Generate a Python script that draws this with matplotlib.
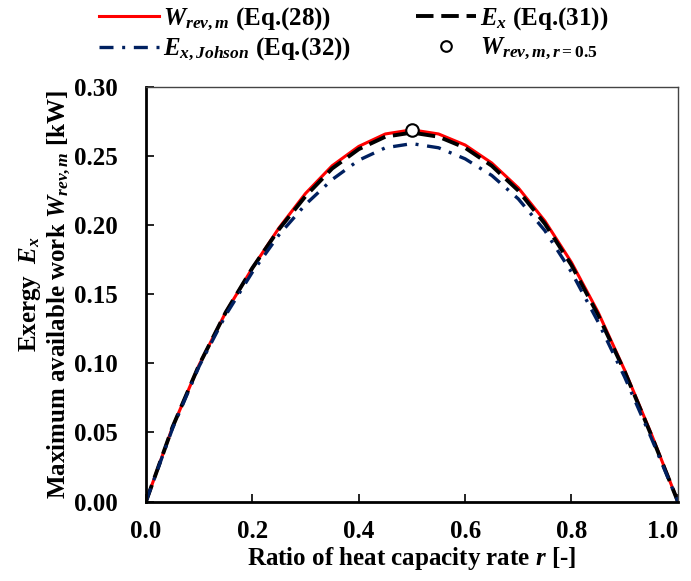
import numpy as np
import matplotlib
matplotlib.use("Agg")
from matplotlib import pyplot as plt

plt.rcParams['font.family'] = 'Liberation Serif'
plt.rcParams['font.weight'] = 'bold'
plt.rcParams['mathtext.fontset'] = 'custom'
plt.rcParams['mathtext.rm'] = 'Liberation Serif:bold'
plt.rcParams['mathtext.it'] = 'Liberation Serif:italic:bold'
plt.rcParams['mathtext.bf'] = 'Liberation Serif:bold'

# ratio of heat capacity rate r
r = [0.0, 0.05, 0.1, 0.15, 0.2, 0.25, 0.3, 0.35, 0.4, 0.45, 0.5,
     0.55, 0.6, 0.65, 0.7, 0.75, 0.8, 0.85, 0.9, 0.95, 1.0]
# W_rev,m (Eq.(28))
w_rev = [0.0, 0.054, 0.099, 0.137, 0.169, 0.198, 0.223, 0.243, 0.257, 0.266, 0.269,
         0.266, 0.258, 0.245, 0.227, 0.203, 0.173, 0.137, 0.095, 0.049, 0.0]
# E_x (Eq.(31))
ex = [0.0, 0.054, 0.099, 0.137, 0.169, 0.197, 0.221, 0.241, 0.255, 0.264, 0.267,
      0.264, 0.256, 0.243, 0.225, 0.201, 0.171, 0.135, 0.094, 0.048, 0.0]
# E_x,Johson (Eq.(32))
ex_johnson = [0.0, 0.053, 0.098, 0.135, 0.166, 0.193, 0.215, 0.233, 0.247, 0.256, 0.259,
              0.256, 0.248, 0.236, 0.219, 0.196, 0.166, 0.130, 0.090, 0.046, 0.0]
# W_rev,m at r = 0.5
r_half = [0.5]
w_half = [0.269]

fig = plt.figure(figsize=(6.91, 5.81), dpi=100)
ax = fig.add_axes([0.2113, 0.1368, 0.7697, 0.7135])

l1, = ax.plot(r, w_rev, color='#ff0000', lw=2.2)
l2, = ax.plot(r, ex, color='black', lw=2.8, dashes=(4.5, 2.0))
l3, = ax.plot(r, ex_johnson, color='#002060', lw=2.4, dashes=(4.2, 2.6, 0.9, 2.6))
l4, = ax.plot(r_half, w_half, 'o', ms=9, mfc='white', mec='black', mew=1.5)

ax.set_xlim(0, 1.0)
ax.set_ylim(0, 0.30)
ax.set_xticks(np.arange(0, 1.01, 0.2))
ax.set_yticks(np.arange(0, 0.301, 0.05))
ax.set_xticklabels(['%.1f' % v for v in np.arange(0, 1.01, 0.2)])
ax.set_yticklabels(['%.2f' % v for v in np.arange(0, 0.301, 0.05)])
ax.tick_params(direction='in', length=6, width=1.2, labelsize=18)
ax.tick_params(axis='y', pad=20)
ax.tick_params(axis='x', pad=13)
ax.get_xticklabels()[-1].set_ha('right')

ax.spines['left'].set_linewidth(2.0)
ax.spines['bottom'].set_linewidth(2.0)
for s in ['top', 'right']:
    ax.spines[s].set_linewidth(1.0)
    ax.spines[s].set_color('#444444')

ax.set_xlabel('Ratio of heat capacity rate $r$ [-]', fontsize=18, fontweight='bold', labelpad=2)
ax.set_ylabel('Exergy  $E_x$\nMaximum available work $W_{rev,m}$ [kW]',
              fontsize=18, fontweight='bold', linespacing=1.15)
ax.yaxis.set_label_coords(-0.137, 0.5)

fig.legend([l1, l3, l2, l4],
           ['$W_{rev,m}$ (Eq.(28))', '$E_{x,Johson}$ (Eq.(32))',
            '$E_x$ (Eq.(31))', '$W_{rev,m,r=0.5}$'],
           ncol=2, frameon=False, fontsize=18, loc='upper left',
           bbox_to_anchor=(0.14, 0.995), borderaxespad=0, borderpad=0.1,
           columnspacing=2.6, handlelength=2.4, handletextpad=0.15,
           labelspacing=0.15, markerscale=0.85)

fig.savefig('out.png', dpi=100)
